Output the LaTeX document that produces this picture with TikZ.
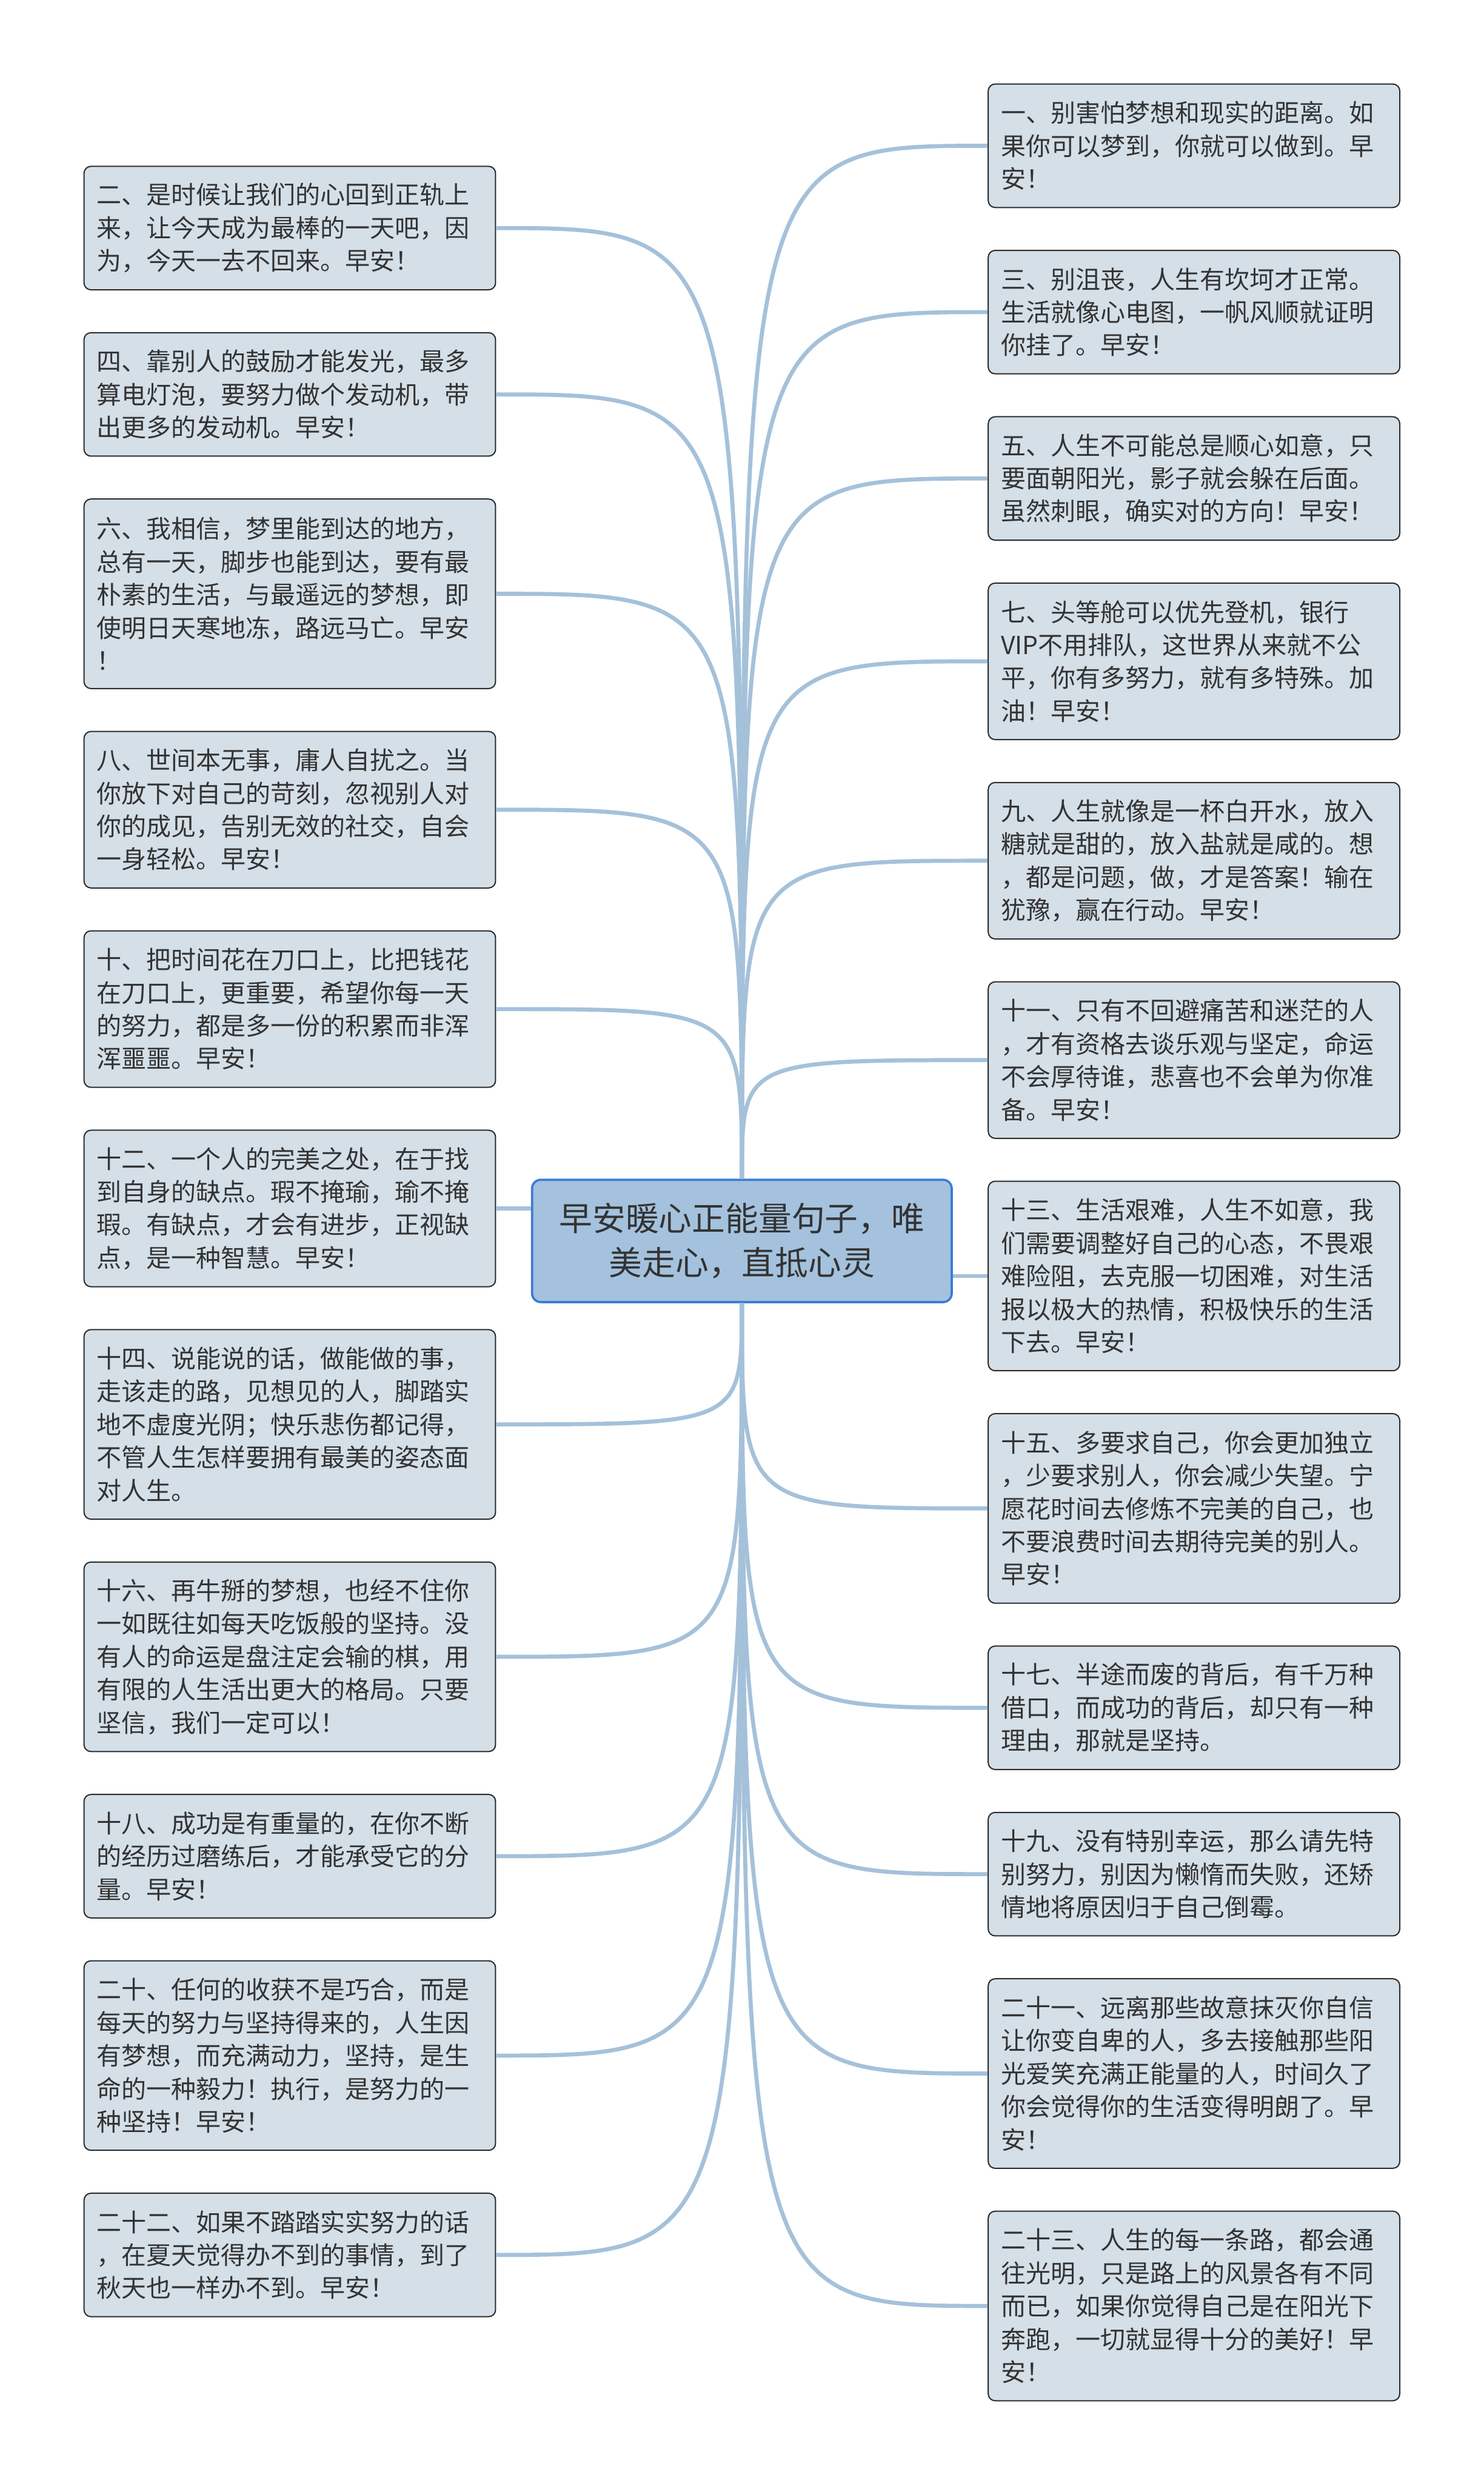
\documentclass[tikz,border=0pt]{standalone}
\usepackage{fontspec}
\setmainfont{Noto Sans CJK SC}
\definecolor{leaffill}{RGB}{212,223,232}
\definecolor{leafline}{RGB}{45,45,45}
\definecolor{rootfill}{RGB}{164,194,221}
\definecolor{rootline}{RGB}{60,124,214}
\definecolor{linkblue}{RGB}{165,193,218}
\definecolor{ink}{RGB}{51,51,51}
\begin{document}
\begin{tikzpicture}[
  leaf/.style={draw=leafline,line width=0.6pt,fill=leaffill,rounded corners=0.12cm,
    text width=6.66cm,inner xsep=0.22cm,inner ysep=2pt,align=left,text=ink,
    font=\fontsize{12.2pt}{16.2pt}\selectfont},
  nrows/.style={minimum height=0.57cm*#1+0.42cm},
  root/.style={draw=rootline,line width=1.1pt,fill=rootfill,rounded corners=0.15cm,
    minimum width=7.24cm,minimum height=2.11cm,align=center,text=ink,
    font=\fontsize{16.3pt}{21.8pt}\selectfont},
  link/.style={draw=linkblue,line width=2pt}]
  \fill[white] (0,0) rectangle (25.6,-42.84);
  \useasboundingbox (0,0) rectangle (25.6,-42.84);

  \node[root] (root) at (12.8,-21.41) {早安暖心正能量句子，唯\\美走心，直抵心灵};

  \node[leaf,nrows=3] (s2) at (5,-3.935) {二、是时候让我们的心回到正轨上\\来，让今天成为最棒的一天吧，因\\为，今天一去不回来。早安！};
  \node[leaf,nrows=3] (s4) at (5,-6.805) {四、靠别人的鼓励才能发光，最多\\算电灯泡，要努力做个发动机，带\\出更多的发动机。早安！};
  \node[leaf,nrows=5] (s6) at (5,-10.245) {六、我相信，梦里能到达的地方，\\总有一天，脚步也能到达，要有最\\朴素的生活，与最遥远的梦想，即\\使明日天寒地冻，路远马亡。早安\\！};
  \node[leaf,nrows=4] (s8) at (5,-13.97) {八、世间本无事，庸人自扰之。当\\你放下对自己的苛刻，忽视别人对\\你的成见，告别无效的社交，自会\\一身轻松。早安！};
  \node[leaf,nrows=4] (s10) at (5,-17.41) {十、把时间花在刀口上，比把钱花\\在刀口上，更重要，希望你每一天\\的努力，都是多一份的积累而非浑\\浑噩噩。早安！};
  \node[leaf,nrows=4] (s12) at (5,-20.85) {十二、一个人的完美之处，在于找\\到自身的缺点。瑕不掩瑜，瑜不掩\\瑕。有缺点，才会有进步，正视缺\\点，是一种智慧。早安！};
  \node[leaf,nrows=5] (s14) at (5,-24.575) {十四、说能说的话，做能做的事，\\走该走的路，见想见的人，脚踏实\\地不虚度光阴；快乐悲伤都记得，\\不管人生怎样要拥有最美的姿态面\\对人生。};
  \node[leaf,nrows=5] (s16) at (5,-28.585) {十六、再牛掰的梦想，也经不住你\\一如既往如每天吃饭般的坚持。没\\有人的命运是盘注定会输的棋，用\\有限的人生活出更大的格局。只要\\坚信，我们一定可以！};
  \node[leaf,nrows=3] (s18) at (5,-32.025) {十八、成功是有重量的，在你不断\\的经历过磨练后，才能承受它的分\\量。早安！};
  \node[leaf,nrows=5] (s20) at (5,-35.465) {二十、任何的收获不是巧合，而是\\每天的努力与坚持得来的，人生因\\有梦想，而充满动力，坚持，是生\\命的一种毅力！执行，是努力的一\\种坚持！早安！};
  \node[leaf,nrows=3] (s22) at (5,-38.905) {二十二、如果不踏踏实实努力的话\\，在夏天觉得办不到的事情，到了\\秋天也一样办不到。早安！};

  \node[leaf,nrows=3] (s1) at (20.6,-2.515) {一、别害怕梦想和现实的距离。如\\果你可以梦到，你就可以做到。早\\安！};
  \node[leaf,nrows=3] (s3) at (20.6,-5.385) {三、别沮丧，人生有坎坷才正常。\\生活就像心电图，一帆风顺就证明\\你挂了。早安！};
  \node[leaf,nrows=3] (s5) at (20.6,-8.255) {五、人生不可能总是顺心如意，只\\要面朝阳光，影子就会躲在后面。\\虽然刺眼，确实对的方向！早安！};
  \node[leaf,nrows=4] (s7) at (20.6,-11.41) {七、头等舱可以优先登机，银行\\VIP不用排队，这世界从来就不公\\平，你有多努力，就有多特殊。加\\油！早安！};
  \node[leaf,nrows=4] (s9) at (20.6,-14.85) {九、人生就像是一杯白开水，放入\\糖就是甜的，放入盐就是咸的。想\\，都是问题，做，才是答案！输在\\犹豫，赢在行动。早安！};
  \node[leaf,nrows=4] (s11) at (20.6,-18.29) {十一、只有不回避痛苦和迷茫的人\\，才有资格去谈乐观与坚定，命运\\不会厚待谁，悲喜也不会单为你准\\备。早安！};
  \node[leaf,nrows=5] (s13) at (20.6,-22.015) {十三、生活艰难，人生不如意，我\\们需要调整好自己的心态，不畏艰\\难险阻，去克服一切困难，对生活\\报以极大的热情，积极快乐的生活\\下去。早安！};
  \node[leaf,nrows=5] (s15) at (20.6,-26.025) {十五、多要求自己，你会更加独立\\，少要求别人，你会减少失望。宁\\愿花时间去修炼不完美的自己，也\\不要浪费时间去期待完美的别人。\\早安！};
  \node[leaf,nrows=3] (s17) at (20.6,-29.465) {十七、半途而废的背后，有千万种\\借口，而成功的背后，却只有一种\\理由，那就是坚持。};
  \node[leaf,nrows=3] (s19) at (20.6,-32.335) {十九、没有特别幸运，那么请先特\\别努力，别因为懒惰而失败，还矫\\情地将原因归于自己倒霉。};
  \node[leaf,nrows=5] (s21) at (20.6,-35.775) {二十一、远离那些故意抹灭你自信\\让你变自卑的人，多去接触那些阳\\光爱笑充满正能量的人，时间久了\\你会觉得你的生活变得明朗了。早\\安！};
  \node[leaf,nrows=5] (s23) at (20.6,-39.785) {二十三、人生的每一条路，都会通\\往光明，只是路上的风景各有不同\\而已，如果你觉得自己是在阳光下\\奔跑，一切就显得十分的美好！早\\安！};

  \foreach \n in {s2,s4,s6,s8,s10}
    \draw[link] (root.north) .. controls (root.north |- \n.east) .. (\n.east);
  \foreach \n in {s1,s3,s5,s7,s9,s11}
    \draw[link] (root.north) .. controls (root.north |- \n.west) .. (\n.west);
  \foreach \n in {s14,s16,s18,s20,s22}
    \draw[link] (root.south) .. controls (root.south |- \n.east) .. (\n.east);
  \foreach \n in {s15,s17,s19,s21,s23}
    \draw[link] (root.south) .. controls (root.south |- \n.west) .. (\n.west);
  \draw[link] (s12.east) -- (s12.east -| root.west);
  \draw[link] (s13.west) -- (s13.west -| root.east);
\end{tikzpicture}
\end{document}
